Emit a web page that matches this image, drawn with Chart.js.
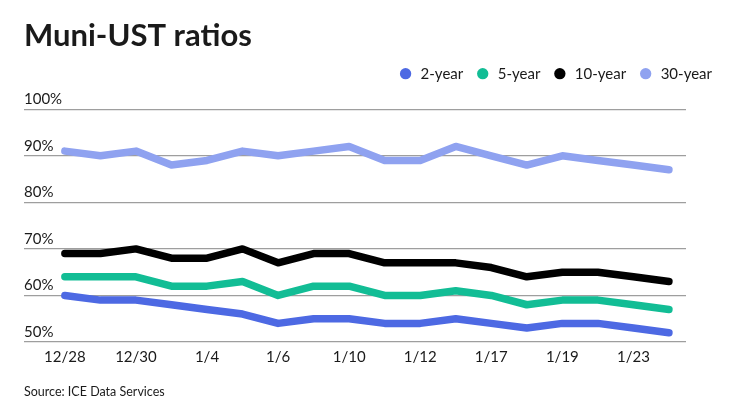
<!DOCTYPE html>
<html>
<head>
<meta charset="utf-8">
<script src="https://cdn.jsdelivr.net/npm/chart.js@4"></script>
<style>
  html, body { margin: 0; padding: 0; background: #fff; }
  #wrap { width: 740px; height: 416px; position: relative; }
</style>
</head>
<body>
<div id="wrap"><canvas id="chart"></canvas></div>
<script>
const dates = ['12/28', '12/29', '12/30', '1/3', '1/4', '1/5', '1/6', '1/7', '1/10', '1/11', '1/12', '1/13', '1/17', '1/18', '1/19', '1/20', '1/23', '1/24']
const twoYear = [60, 59, 59, 58, 57, 56, 54, 55, 55, 54, 54, 55, 54, 53, 54, 54, 53, 52]
const fiveYear = [64, 64, 64, 62, 62, 63, 60, 62, 62, 60, 60, 61, 60, 58, 59, 59, 58, 57]
const tenYear = [69, 69, 70, 68, 68, 70, 67, 69, 69, 67, 67, 67, 66, 64, 65, 65, 64, 63]
const thirtyYear = [91, 90, 91, 88, 89, 91, 90, 91, 92, 89, 89, 92, 90, 88, 90, 89, 88, 87]
const yTicks = [50, 60, 70, 80, 90, 100]

const FONT = 'Lato, "Open Sans", sans-serif'
const TEXT = '#1a1a1a'

const toPoints = arr => arr.map((v, i) => ({ x: i, y: v }))

function series(label, data, color) {
  return {
    label, data: toPoints(data),
    borderColor: color, backgroundColor: color,
    borderWidth: 7.5, borderCapStyle: 'round', borderJoinStyle: 'round',
    pointRadius: 0, pointHoverRadius: 0, pointBorderWidth: 0, tension: 0, fill: false
  }
}

// extra room under the legend, before the plot starts
const legendGap = {
  id: 'legendGap',
  beforeInit(chart) {
    const fit = chart.legend.fit
    chart.legend.fit = function () { fit.call(this); this.height += 18 }
  }
}

new Chart(document.getElementById('chart'), {
  type: 'line',
  data: {
    datasets: [
      series('2-year', twoYear, '#4d69e3'),
      series('5-year', fiveYear, '#12bd95'),
      series('10-year', tenYear, '#000000'),
      series('30-year', thirtyYear, '#8fa2f0')
    ]
  },
  plugins: [legendGap],
  options: {
    responsive: true, maintainAspectRatio: false, animation: false,
    layout: { padding: { left: 24, right: 16, top: 0, bottom: 0 } },
    plugins: {
      title: {
        display: true, text: 'Muni-UST ratios', align: 'start', color: TEXT,
        font: { family: FONT, size: 31, weight: 'bold' }, padding: { top: 17, bottom: 0 }
      },
      subtitle: {
        display: true, text: 'Source: ICE Data Services', position: 'bottom', align: 'start', color: TEXT,
        font: { family: FONT, size: 12.5 }, padding: { top: 12, bottom: 17 }
      },
      legend: {
        position: 'top', align: 'end',
        labels: {
          usePointStyle: true, pointStyle: 'circle', boxWidth: 15, boxHeight: 8, padding: 12,
          color: TEXT, font: { family: FONT, size: 15 },
          generateLabels: chart => Chart.defaults.plugins.legend.labels.generateLabels(chart).map(l => ({ ...l, lineWidth: 0 }))
        }
      },
      tooltip: { enabled: false }
    },
    scales: {
      x: {
        type: 'linear', min: -1.15, max: 17.48,
        afterBuildTicks: s => { s.ticks = dates.map((d, i) => ({ value: i })).filter(t => t.value % 2 === 0) },
        grid: { display: false, drawTicks: false },
        border: { display: false },
        ticks: { autoSkip: false, maxRotation: 0, padding: 6, color: TEXT, font: { family: FONT, size: 15 }, callback: v => dates[v] }
      },
      y: {
        min: 50, max: 100,
        afterBuildTicks: s => { s.ticks = yTicks.map(v => ({ value: v })) },
        grid: { color: '#9e9e9e', lineWidth: 1.3, drawTicks: false },
        border: { display: false },
        ticks: { mirror: true, padding: 0, labelOffset: -10, color: TEXT, font: { family: FONT, size: 15 }, callback: v => v + '%' }
      },
      yRight: {
        position: 'right', display: true,
        grid: { display: false, drawTicks: false }, border: { display: false },
        ticks: { display: false },
        afterFit: s => { s.width = 38 }
      }
    }
  }
})
</script>
</body>
</html>
